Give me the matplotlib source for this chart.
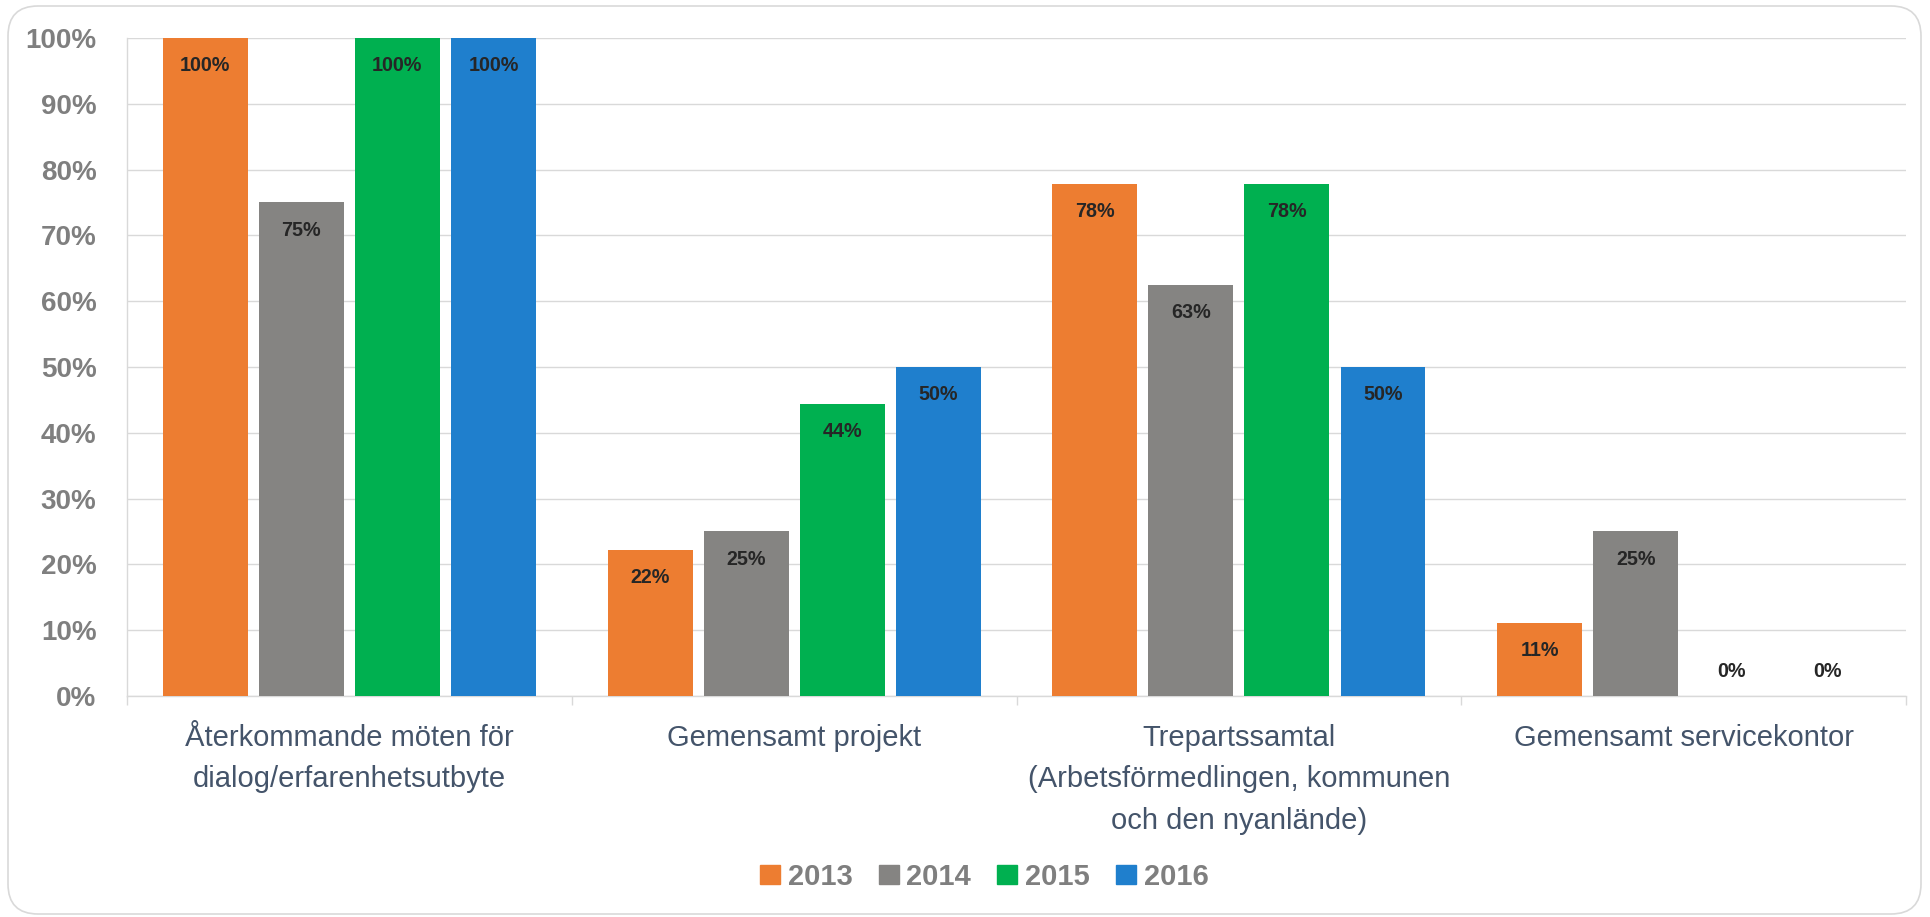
import matplotlib.pyplot as plt
import matplotlib.patches as mpatches
from matplotlib.ticker import FuncFormatter, FixedLocator
import numpy as np

# data
kategorier = ['Återkommande möten för\ndialog/erfarenhetsutbyte',
              'Gemensamt projekt',
              'Trepartssamtal\n(Arbetsförmedlingen, kommunen\noch den nyanlände)',
              'Gemensamt servicekontor']
ar = ['2013', '2014', '2015', '2016']
v2013 = [1.0, 0.222, 0.778, 0.111]
v2014 = [0.75, 0.25, 0.625, 0.25]
v2015 = [1.0, 0.444, 0.778, 0.0]
v2016 = [1.0, 0.5, 0.5, 0.0]
serier = [v2013, v2014, v2015, v2016]
farger = ['#ED7D31', '#858482', '#00B050', '#1F7FCD']

plt.rcParams['font.family'] = ['Liberation Sans', 'DejaVu Sans']

fig = plt.figure(figsize=(19.3, 9.17), dpi=100)
ax = fig.add_axes([0.0658, 0.241, 0.9218, 0.7176])

# rounded frame around the chart
ram = mpatches.FancyBboxPatch((0.08, 0.03), 19.13, 9.08,
                              boxstyle='round,pad=0,rounding_size=0.3',
                              transform=fig.dpi_scale_trans, fill=False,
                              edgecolor='#D9D9D9', linewidth=1.2)
fig.patches.append(ram)

x = np.arange(len(kategorier))
bredd = 0.191
steg = 0.216

for i, (vals, farg) in enumerate(zip(serier, farger)):
    pos = x + (i - 1.5) * steg
    ax.bar(pos, vals, bredd, color=farg, label=ar[i], zorder=3)
    for px, v in zip(pos, vals):
        dy = -20 if v > 0 else 17.3
        # excel-style rounding (62.5 -> 63)
        txt = '{}%'.format(int(v * 100 + 0.5))
        ax.annotate(txt, xy=(px, v), xytext=(0, dy),
                    textcoords='offset points', ha='center', va='center',
                    fontsize=14.2, fontweight='bold', color='#262626', zorder=4)

ax.set_xlim(-0.5, 3.5)
ax.set_ylim(0, 1.0)
ax.set_yticks(np.arange(0, 1.01, 0.1))
ax.yaxis.set_major_formatter(FuncFormatter(lambda v, p: '{:.0f}%'.format(v * 100)))
ax.tick_params(axis='y', length=0, pad=22, labelsize=20, labelcolor='#7F7F7F')
for t in ax.get_yticklabels():
    t.set_fontweight('bold')

ax.set_xticks(x)
ax.set_xticklabels(kategorier, fontsize=21, color='#44546A', linespacing=1.62)
ax.xaxis.set_minor_locator(FixedLocator(np.arange(-0.5, 3.6, 1.0)))
ax.tick_params(axis='x', which='major', length=0, pad=20)
ax.tick_params(axis='x', which='minor', length=6.5, color='#D9D9D9', width=1)

ax.yaxis.grid(True, color='#D9D9D9', linewidth=1.0, zorder=0)
ax.set_axisbelow(True)
for s in ['top', 'right']:
    ax.spines[s].set_visible(False)
for s in ['left', 'bottom']:
    ax.spines[s].set_color('#D9D9D9')
    ax.spines[s].set_linewidth(1.0)

handtag = [mpatches.Patch(color=f, label=a) for f, a in zip(farger, ar)]
leg = fig.legend(handles=handtag, loc='center', bbox_to_anchor=(0.51, 1 - 877 / 917),
                 ncol=4, frameon=False, prop={'size': 21, 'weight': 'bold'},
                 handlelength=0.68, handleheight=0.65, handletextpad=0.27,
                 columnspacing=0.9)
for t in leg.get_texts():
    t.set_color('#7F7F7F')

fig.savefig('out.png', dpi=100)
